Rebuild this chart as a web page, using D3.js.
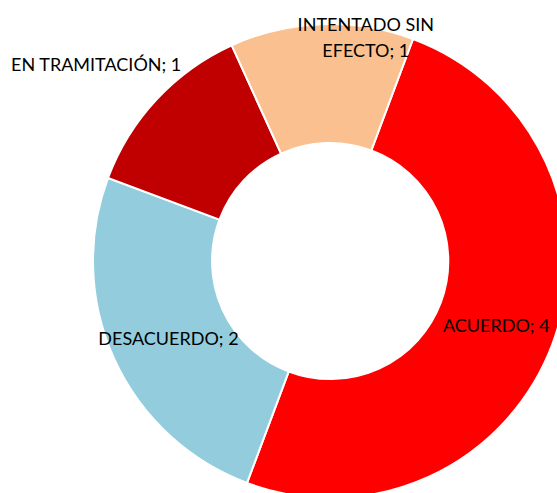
<!DOCTYPE html>
<html>
<head>
<meta charset="utf-8">
<script src="https://cdn.jsdelivr.net/npm/d3@7"></script>
<style>
  html, body { margin: 0; padding: 0; background: #fff; }
  svg { display: block; }
  .label { font-family: Lato, "Open Sans", sans-serif; font-size: 18px; fill: #000; }
</style>
</head>
<body>
<svg></svg>
<script>
// datos del gráfico
const categories = ['ACUERDO', 'DESACUERDO', 'EN TRAMITACIÓN', 'INTENTADO SIN EFECTO'];
const values = [4, 2, 1, 1];
const colors = ['#FF0000', '#93CDDD', '#C00000', '#FAC090'];

// líneas de cada etiqueta (Excel parte la última en dos)
const labelLines = [
  ['ACUERDO; 4'],
  ['DESACUERDO; 2'],
  ['EN TRAMITACIÓN; 1'],
  ['INTENTADO SIN', 'EFECTO; 1']
];

const width = 557;
const height = 493;
const cx = 330, cy = 261;
const outerR = 237, innerR = 118;

const svg = d3.select('svg').attr('width', width).attr('height', height);
const g = svg.append('g').attr('transform', `translate(${cx},${cy})`);

const startDeg = 20.5;
const pie = d3.pie()
  .sort(null)
  .value((d) => d)
  .startAngle(startDeg * Math.PI / 180)
  .endAngle((startDeg + 360) * Math.PI / 180);

const arc = d3.arc().innerRadius(innerR).outerRadius(outerR);
const arcs = pie(values);

// sectores
g.selectAll('.slice')
  .data(arcs)
  .enter()
  .append('path')
  .attr('class', 'slice')
  .attr('d', arc)
  .attr('fill', (d, i) => colors[i])
  .attr('stroke', '#fff')
  .attr('stroke-width', 2);

// desplazamiento de etiquetas movidas a mano respecto al centroide
const labelShift = [
  [0, 3],
  [0, 4],
  [-104, -75],
  [42, -46]
];

const lineH = 25.5;
const labels = g.selectAll('.label')
  .data(arcs)
  .enter()
  .append('text')
  .attr('class', 'label')
  .attr('text-anchor', 'middle')
  .attr('transform', (d, i) => {
    const c = arc.centroid(d);
    return `translate(${c[0] + labelShift[i][0]},${c[1] + labelShift[i][1]})`;
  });

labels.each(function (d, i) {
  const lines = labelLines[i];
  const t = d3.select(this);
  lines.forEach((line, j) => {
    t.append('tspan')
      .attr('x', 0)
      .attr('y', (j - (lines.length - 1) / 2) * lineH)
      .attr('dy', '0.35em')
      .text(line);
  });
});
</script>
</body>
</html>
